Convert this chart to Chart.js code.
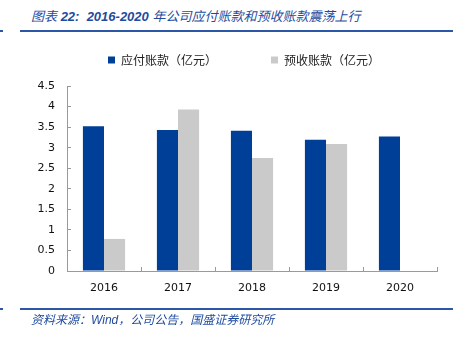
<!DOCTYPE html>
<html>
<head>
<meta charset="utf-8">
<script src="https://cdn.jsdelivr.net/npm/chart.js@4.4.1/dist/chart.umd.min.js"></script>
<style>
  body { margin: 0; width: 453px; height: 341px; position: relative; background: #fff; overflow: hidden; }
  #wrap { position: absolute; left: 0; top: 0; width: 453px; height: 341px; }
  .rule { position: absolute; height: 2px; background: #2b57a6; }
  .cap { position: absolute; font-style: italic; color: #1f4b9e; white-space: nowrap;
         font-family: "Liberation Sans", "Noto Sans CJK SC", sans-serif; }
  .cap b { font-weight: bold; }
</style>
</head>
<body>
<div class="cap" style="left:31px; top:6px; font-size:13px;">图表 <b>22:&nbsp; 2016-2020</b> 年公司应付账款和预收账款震荡上行</div>
<div class="rule" style="left:0; width:3px; top:30px;"></div>
<div class="rule" style="left:20px; right:0; top:30px;"></div>
<div id="wrap"><canvas id="chart"></canvas></div>
<div class="rule" style="left:0; width:3px; top:308px;"></div>
<div class="rule" style="left:20px; right:0; top:308px;"></div>
<div class="cap" style="left:31px; top:310px; font-size:12px;">资料来源：Wind，公司公告，国盛证券研究所</div>

<script>
// 年份与两项余额（亿元）
const years = ['2016', '2017', '2018', '2019', '2020'];
const payables = [3.52, 3.43, 3.41, 3.19, 3.27];
const advances = [0.78, 3.93, 2.75, 3.09, null];
const seriesNames = ['应付账款（亿元）', '预收账款（亿元）'];
const yMax = 4.5;
const yStep = 0.5;

const axisGray = '#9a9a9a';

// 图例区固定高度，并把图例整体右移一点，对准绘图区
const legendFit = {
  id: 'legendFit',
  beforeInit(chart) {
    const fit = chart.legend.fit;
    chart.legend.fit = function () {
      fit.call(this);
      this.height = 86;
      if (this.lineWidths && this.lineWidths.length) this.lineWidths[0] -= 18;
    };
  }
};

new Chart(document.getElementById('chart').getContext('2d'), {
  type: 'bar',
  data: {
    labels: years,
    datasets: [{
      label: seriesNames[0],
      data: payables,
      backgroundColor: '#003f97'
    }, {
      label: seriesNames[1],
      data: advances,
      backgroundColor: '#cacaca'
    }]
  },
  options: {
    responsive: true,
    maintainAspectRatio: false,
    animation: false,
    layout: { padding: { left: 33, right: 16, top: 0, bottom: 40 } },
    datasets: {
      bar: { categoryPercentage: 0.57, barPercentage: 1.0, borderWidth: 0 }
    },
    plugins: {
      tooltip: { enabled: false },
      legend: {
        position: 'top',
        labels: {
          boxWidth: 7,
          boxHeight: 7,
          padding: 54,
          color: '#222',
          font: { family: '"Noto Sans CJK SC", sans-serif', size: 12 }
        }
      }
    },
    scales: {
      x: {
        afterFit(scale) { scale.height = 30; },
        border: { color: axisGray, width: 1 },
        grid: { drawOnChartArea: false, drawTicks: true, tickLength: -4, color: axisGray },
        ticks: {
          padding: 15,
          color: '#111',
          font: { family: '"DejaVu Sans", sans-serif', size: 11 }
        }
      },
      y: {
        min: 0,
        max: yMax,
        afterFit(scale) { scale.width = 34; },
        border: { color: axisGray, width: 1 },
        grid: { drawOnChartArea: false, drawTicks: true, tickLength: -4, color: axisGray },
        ticks: {
          stepSize: yStep,
          padding: 16,
          color: '#111',
          font: { family: '"DejaVu Sans", sans-serif', size: 11 },
          // 整数刻度不带小数位：4、3、2……
          callback: value => String(value)
        }
      }
    }
  },
  plugins: [legendFit]
});
</script>
</body>
</html>
